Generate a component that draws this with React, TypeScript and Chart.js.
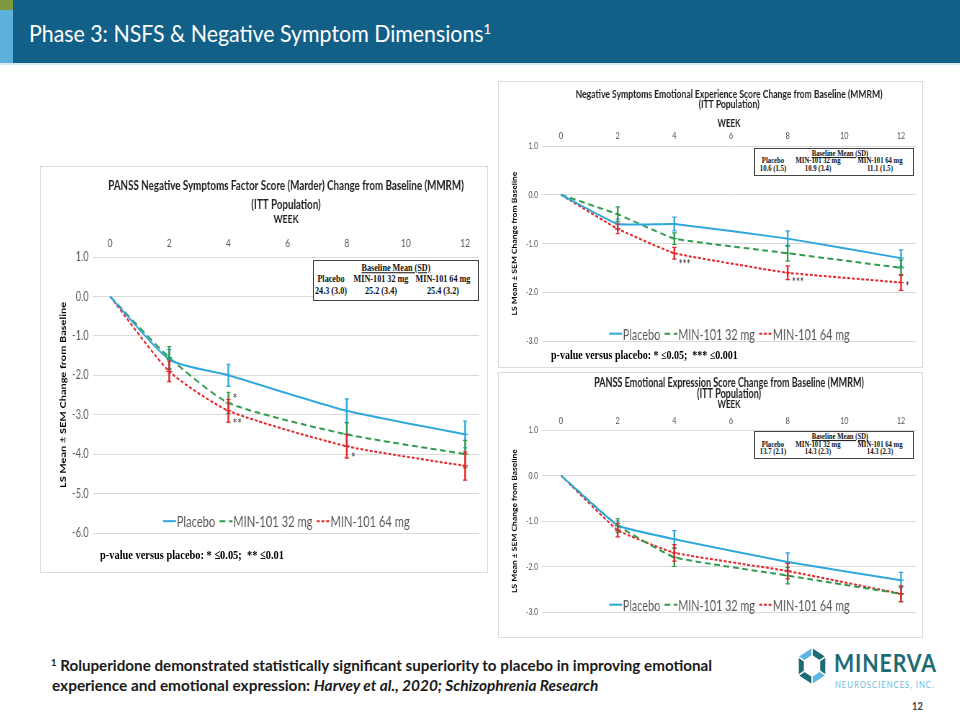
import React, { useEffect, useLayoutEffect, useRef, useState } from 'react';
import { Chart, registerables } from 'chart.js';

Chart.register(...registerables);

// ---------------- DATA ----------------
const weeks = [0, 2, 4, 8, 12];
const weekTicks = [0, 2, 4, 6, 8, 10, 12];
const seriesNames = ['Placebo', 'MIN-101 32 mg', 'MIN-101 64 mg'];

// PANSS Negative Symptoms Factor Score (Marder)
const nsfsTitle = ['PANSS Negative Symptoms Factor Score (Marder) Change from Baseline (MMRM)', '(ITT Population)'];
const nsfsPlacebo = [0, -1.6, -2.0, -2.9, -3.5];
const nsfsPlaceboSem = [0, 0.25, 0.28, 0.3, 0.34];
const nsfs32 = [0, -1.55, -2.7, -3.5, -4.0];
const nsfs32Sem = [0, 0.28, 0.27, 0.3, 0.35];
const nsfs64 = [0, -1.9, -2.9, -3.8, -4.3];
const nsfs64Sem = [0, 0.26, 0.29, 0.3, 0.36];
const nsfsMarks = [
  { week: 4, value: -2.55, text: '*' },
  { week: 4, value: -3.2, text: '**' },
  { week: 8, value: -4.05, text: '*' },
];
const nsfsBaseline = ['24.3 (3.0)', '25.2 (3.4)', '25.4 (3.2)'];

// Negative Symptoms Emotional Experience
const expTitle = ['Negative Symptoms Emotional Experience Score Change from Baseline (MMRM)', '(ITT Population)'];
const expPlacebo = [0, -0.6, -0.6, -0.9, -1.3];
const expPlaceboSem = [0, 0.1, 0.14, 0.16, 0.17];
const exp32 = [0, -0.4, -0.9, -1.2, -1.5];
const exp32Sem = [0, 0.15, 0.12, 0.16, 0.16];
const exp64 = [0, -0.7, -1.2, -1.6, -1.8];
const exp64Sem = [0, 0.1, 0.12, 0.14, 0.16];
const expMarks = [
  { week: 4, value: -1.39, text: '***' },
  { week: 8, value: -1.77, text: '***' },
  { week: 12, value: -1.85, text: '*' },
];
const expBaseline = ['10.6 (1.5)', '10.9 (3.4)', '11.1 (1.5)'];

// PANSS Emotional Expression
const exprTitle = ['PANSS Emotional Expression Score Change from Baseline (MMRM)', '(ITT Population)'];
const exprPlacebo = [0, -1.1, -1.4, -1.9, -2.3];
const exprPlaceboSem = [0, 0.1, 0.19, 0.2, 0.17];
const expr32 = [0, -1.1, -1.8, -2.2, -2.6];
const expr32Sem = [0, 0.15, 0.2, 0.18, 0.17];
const expr64 = [0, -1.2, -1.7, -2.1, -2.6];
const expr64Sem = [0, 0.15, 0.18, 0.17, 0.17];
const exprMarks: { week: number; value: number; text: string }[] = [];
const exprBaseline = ['13.7 (2.1)', '14.3 (2.3)', '14.3 (2.3)'];

// ---------------- STYLE ----------------
const FONT = 'Lato, "Open Sans", "Liberation Sans", sans-serif';
const SERIF = '"Liberation Serif", "DejaVu Serif", serif';
const COLORS = ['#2ea7dd', '#2f9a4c', '#e1262b'];
const DASHES = [[], [8, 5], [4, 2.5]];
const S = 0.72; // horizontal compression of the slide

type Spec = any;

function makeExtras(spec: Spec, k: number) {
  return {
    id: 'extras',
    afterDraw(chart: any) {
      const ctx = chart.ctx;
      const area = chart.chartArea;
      const cx = (area.left + area.right) / 2;
      // chart title centred on the plot area
      ctx.save();
      ctx.fillStyle = '#1f1f1f';
      ctx.textAlign = 'center';
      ctx.textBaseline = 'middle';
      ctx.font = `bold 10px ${FONT}`;
      const m = ctx.measureText(spec.title[0]).width;
      const size = (10 * (spec.titleW / k)) / m;
      ctx.font = `bold ${size}px ${FONT}`;
      spec.title.forEach((t: string, i: number) => ctx.fillText(t, cx, spec.titleY[i]));
      ctx.restore();
    },
    afterDatasetsDraw(chart: any) {
      const ctx = chart.ctx;
      const xS = chart.scales.x;
      const yS = chart.scales.y;
      const area = chart.chartArea;
      // error bars
      chart.data.datasets.forEach((ds: any, i: number) => {
        const errs = spec.sems[i];
        ctx.save();
        ctx.strokeStyle = ds.borderColor;
        ctx.setLineDash([]);
        ds.data.forEach((pt: any, j: number) => {
          const e = errs[j];
          if (!e) return;
          const x = xS.getPixelForValue(pt.x);
          const y1 = yS.getPixelForValue(pt.y + e);
          const y2 = yS.getPixelForValue(pt.y - e);
          const y0 = yS.getPixelForValue(pt.y);
          ctx.lineWidth = 2.4;
          ctx.beginPath();
          ctx.moveTo(x, y1);
          ctx.lineTo(x, y2);
          ctx.stroke();
          ctx.lineWidth = 1.2;
          ctx.beginPath();
          ctx.moveTo(x - 3, y1);
          ctx.lineTo(x + 3, y1);
          ctx.moveTo(x - 3, y2);
          ctx.lineTo(x + 3, y2);
          ctx.moveTo(x - 4, y0);
          ctx.lineTo(x + 4, y0);
          ctx.stroke();
        });
        ctx.restore();
      });
      // significance marks
      ctx.save();
      ctx.fillStyle = '#333333';
      ctx.font = `${spec.markFont}px ${FONT}`;
      ctx.textAlign = 'left';
      ctx.textBaseline = 'middle';
      spec.marks.forEach((mk: any) => {
        ctx.fillText(mk.text, xS.getPixelForValue(mk.week) + 6, yS.getPixelForValue(mk.value) + 2);
      });
      ctx.restore();
      // legend
      ctx.save();
      ctx.font = `${spec.legendFont}px ${FONT}`;
      ctx.textBaseline = 'middle';
      ctx.textAlign = 'left';
      const sample = spec.legendSample;
      const gap = spec.legendGap;
      const widths = chart.data.datasets.map((d: any) => ctx.measureText(d.label).width);
      const total = widths.reduce((a: number, b: number) => a + b, 0) + sample * widths.length + gap * (widths.length - 1);
      let x = (area.left + area.right) / 2 - total / 2;
      const y = yS.getPixelForValue(spec.legendValue);
      chart.data.datasets.forEach((d: any, i: number) => {
        ctx.strokeStyle = d.borderColor;
        ctx.lineWidth = 2;
        ctx.setLineDash(d.borderDash || []);
        ctx.beginPath();
        ctx.moveTo(x, y);
        ctx.lineTo(x + sample, y);
        ctx.stroke();
        ctx.fillStyle = '#595959';
        ctx.fillText(d.label, x + sample + 1, y + 1);
        x += sample + widths[i] + gap;
      });
      ctx.restore();
    },
  };
}

function buildConfig(spec: Spec, k: number): any {
  const datasets = spec.series.map((vals: number[], i: number) => ({
    label: seriesNames[i],
    data: weeks.map((w, j) => ({ x: w, y: vals[j] })),
    borderColor: COLORS[i],
    backgroundColor: COLORS[i],
    borderWidth: 2,
    borderDash: DASHES[i],
    pointRadius: 0,
    tension: spec.tension,
    fill: false,
  }));
  return {
    type: 'line',
    data: { datasets },
    options: {
      responsive: false,
      animation: false,
      events: [],
      layout: { padding: { left: 0, right: spec.padRight, top: spec.padTop, bottom: spec.padBottom } },
      plugins: {
        legend: { display: false },
        tooltip: { enabled: false },
        title: { display: false },
      },
      scales: {
        x: {
          type: 'linear',
          position: 'top',
          min: spec.xMin,
          max: spec.xMax,
          afterBuildTicks: (a: any) => {
            a.ticks = weekTicks.map((v) => ({ value: v }));
          },
          afterFit: (a: any) => {
            a.height = spec.axisH;
          },
          grid: { display: false, drawTicks: false },
          border: { display: false },
          ticks: {
            autoSkip: false,
            maxRotation: 0,
            color: '#595959',
            padding: spec.xTickPad,
            font: { family: FONT, size: spec.xTickFont, lineHeight: spec.xTickLH + 'px' },
          },
          title: {
            display: true,
            text: 'WEEK',
            color: '#1f1f1f',
            font: { family: FONT, size: spec.weekFont, weight: 'bold', lineHeight: spec.weekLH + 'px' },
            padding: { top: spec.weekPad, bottom: 0 },
          },
        },
        y: {
          min: spec.yMin,
          max: spec.yMax,
          afterFit: (a: any) => {
            a.width = spec.yAxisW;
          },
          grid: { color: '#d9d9d9', lineWidth: 1, drawTicks: false },
          border: { display: false },
          ticks: {
            stepSize: 1,
            color: '#595959',
            padding: spec.yTickPad,
            font: { family: FONT, size: spec.yTickFont },
            callback: (v: any) => Number(v).toFixed(1),
          },
          title: {
            display: true,
            text: 'LS Mean \u00b1 SEM Change from Baseline',
            color: '#000000',
            align: 'center',
            font: { family: FONT, size: spec.yTitleFont, weight: 'bold', lineHeight: spec.yTitleLH + 'px' },
            padding: { top: spec.yTitlePad, bottom: 0 },
          },
        },
      },
    },
    plugins: [makeExtras(spec, k)],
  };
}

const specA: Spec = {
  box: { x: 40, y: 166, w: 448, h: 407 },
  title: nsfsTitle, titleW: 356, titleY: [20, 39],
  padTop: 47, axisH: 44, weekFont: 12, weekLH: 12, weekPad: 0,
  xTickFont: 12, xTickLH: 12, xTickPad: 8,
  yAxisW: 73.6, yTickFont: 13, yTickPad: 6,
  yTitleFont: 11, yTitleLH: 12, yTitlePad: 26,
  padRight: 12.5, padBottom: 40,
  xMin: -0.575, xMax: 12.47, yMin: -6, yMax: 1, tension: 0.2,
  series: [nsfsPlacebo, nsfs32, nsfs64],
  sems: [nsfsPlaceboSem, nsfs32Sem, nsfs64Sem],
  marks: nsfsMarks, markFont: 15,
  legendValue: -5.7, legendFont: 15.5, legendSample: 18, legendGap: 7,
};

const specB: Spec = {
  box: { x: 498, y: 81, w: 425, h: 287 },
  title: expTitle, titleW: 307, titleY: [13, 23.5],
  padTop: 28, axisH: 37, weekFont: 11, weekLH: 10, weekPad: 9,
  xTickFont: 10, xTickLH: 10, xTickPad: 5,
  yAxisW: 61.1, yTickFont: 9.5, yTickPad: 5.5,
  yTitleFont: 8.5, yTitleLH: 10, yTitlePad: 18.6,
  padRight: 9.7, padBottom: 27,
  xMin: -0.67, xMax: 12.53, yMin: -3, yMax: 1, tension: 0.1,
  series: [expPlacebo, exp32, exp64],
  sems: [expPlaceboSem, exp32Sem, exp64Sem],
  marks: expMarks, markFont: 13,
  legendValue: -2.85, legendFont: 15, legendSample: 18, legendGap: 7,
};

const specC: Spec = {
  box: { x: 498, y: 372, w: 425, h: 266 },
  title: exprTitle, titleW: 270, titleY: [10.5, 21.5],
  padTop: 26.5, axisH: 31.5, weekFont: 11, weekLH: 10, weekPad: 0.5,
  xTickFont: 10, xTickLH: 10, xTickPad: 4,
  yAxisW: 61.1, yTickFont: 9.5, yTickPad: 5.5,
  yTitleFont: 8.5, yTitleLH: 10, yTitlePad: 18.6,
  padRight: 9.7, padBottom: 26,
  xMin: -0.67, xMax: 12.53, yMin: -3, yMax: 1, tension: 0.1,
  series: [exprPlacebo, expr32, expr64],
  sems: [exprPlaceboSem, expr32Sem, expr64Sem],
  marks: exprMarks, markFont: 13,
  legendValue: -2.84, legendFont: 15, legendSample: 18, legendGap: 7,
};

function ChartPanel({ spec }: { spec: Spec }) {
  const ref = useRef<HTMLCanvasElement>(null);
  const W = Math.round(spec.box.w / S);
  const H = spec.box.h;
  const k = spec.box.w / W;
  useEffect(() => {
    const chart = new Chart(ref.current as HTMLCanvasElement, buildConfig(spec, k));
    return () => chart.destroy();
  }, []);
  return (
    <div
      style={{
        position: 'absolute', left: spec.box.x, top: spec.box.y, width: spec.box.w, height: spec.box.h,
        border: '1px solid #dcdcdc', boxSizing: 'border-box', background: '#fff',
      }}
    >
      <div style={{ position: 'absolute', left: -1, top: -1, width: W, height: H, transform: `scaleX(${k})`, transformOrigin: '0 0' }}>
        <canvas ref={ref} width={W} height={H} style={{ display: 'block' }} />
      </div>
    </div>
  );
}

function Fit({ x, y, w, children, style }: any) {
  const ref = useRef<HTMLSpanElement>(null);
  const [k, setK] = useState(1);
  useLayoutEffect(() => {
    const el = ref.current;
    if (el && el.offsetWidth > 0) setK(w / el.offsetWidth);
  }, [w]);
  return (
    <span
      ref={ref}
      style={{
        position: 'absolute', left: x, top: y, whiteSpace: 'pre', lineHeight: 1,
        transformOrigin: '0 50%', transform: `translateY(-50%) scaleX(${k})`, ...style,
      }}
    >
      {children}
    </span>
  );
}

function Sup({ children }: any) {
  return <span style={{ fontSize: '0.62em', position: 'relative', top: '-0.55em' }}>{children}</span>;
}

function CText({ x, y, children, style }: any) {
  return (
    <span style={{ position: 'absolute', left: x, top: y, whiteSpace: 'pre', lineHeight: 1, transform: 'translate(-50%, -50%) scaleX(0.86)', ...style }}>
      {children}
    </span>
  );
}

function BaselineBox({ x, y, w, h, titleX, titleY, colX, rowY, valY, values, fs }: any) {
  const st = { fontFamily: SERIF, fontWeight: 'bold', fontSize: fs, color: '#111' };
  return (
    <>
      <div style={{ position: 'absolute', left: x, top: y, width: w, height: h, border: '1px solid #444', boxSizing: 'border-box', background: '#fff' }} />
      <CText x={titleX} y={titleY} style={{ ...st, textDecoration: 'underline' }}>Baseline Mean (SD)</CText>
      {seriesNames.map((n, i) => (
        <CText key={'n' + i} x={colX[i]} y={rowY} style={st}>{n}</CText>
      ))}
      {values.map((v: string, i: number) => (
        <CText key={'v' + i} x={colX[i]} y={valY} style={st}>{v}</CText>
      ))}
    </>
  );
}

function Logo() {
  const cx = 17, cy = 20, R = 17.5, r = 9.5;
  const pt = (rad: number, i: number) => {
    const a = ((-90 + 60 * i) * Math.PI) / 180;
    return [cx + rad * 0.92 * Math.cos(a), cy + rad * 1.08 * Math.sin(a)];
  };
  const segColors = ['#1d6b74', '#1d6b74', '#5db6e3', '#1d6b74', '#1d6b74', '#5db6e3'];
  return (
    <svg width={34} height={40} style={{ position: 'absolute', left: 795, top: 646 }}>
      {segColors.map((c, i) => {
        const p = [pt(R, i), pt(R, i + 1), pt(r, i + 1), pt(r, i)];
        return <polygon key={i} points={p.map((q) => q.join(',')).join(' ')} fill={c} stroke="#fff" strokeWidth={1.3} />;
      })}
    </svg>
  );
}

export default function App() {
  return (
    <div style={{ position: 'fixed', left: 0, top: 0, width: 960, height: 720, background: '#fff', overflow: 'hidden', fontFamily: FONT }}>
      {/* header */}
      <div style={{ position: 'absolute', left: 0, top: 0, width: 960, height: 63, background: '#125f88' }} />
      <div style={{ position: 'absolute', left: 0, top: 0, width: 13, height: 63, background: '#5bb0dc' }} />
      <div style={{ position: 'absolute', left: 0, top: 0, width: 13, height: 10, background: '#7d9b3e' }} />
      <div style={{ position: 'absolute', left: 0, top: 63, width: 960, height: 2, background: '#d8eaf3' }} />
      <Fit x={29} y={33} w={462} style={{ color: '#fff', fontSize: 23 }}>
        Phase 3: NSFS &amp; Negative Symptom Dimensions<Sup>1</Sup>
      </Fit>

      {/* charts */}
      <ChartPanel spec={specA} />
      <ChartPanel spec={specB} />
      <ChartPanel spec={specC} />

      {/* baseline boxes */}
      <BaselineBox x={313} y={260} w={166} h={41} titleX={396} titleY={269} colX={[331, 381, 443]} rowY={280} valY={292} values={nsfsBaseline} fs={9.5} />
      <BaselineBox x={754} y={148} w={160} h={28} titleX={840} titleY={154} colX={[773, 818, 880]} rowY={161} valY={169} values={expBaseline} fs={7.8} />
      <BaselineBox x={754} y={431} w={160} h={28} titleX={840} titleY={437} colX={[773, 818, 880]} rowY={445} valY={452} values={exprBaseline} fs={7.8} />

      {/* p-values */}
      <Fit x={100} y={554} w={184} style={{ fontFamily: SERIF, fontWeight: 'bold', fontSize: 13, color: '#000' }}>
        {'p-value versus placebo: * \u22640.05;  ** \u22640.01'}
      </Fit>
      <Fit x={551} y={356} w={187} style={{ fontFamily: SERIF, fontWeight: 'bold', fontSize: 11.5, color: '#000' }}>
        {'p-value versus placebo: * \u22640.05;  *** \u22640.001'}
      </Fit>

      {/* footnote */}
      <Fit x={51} y={665} w={661} style={{ fontWeight: 'bold', fontSize: 15, color: '#1a1a1a' }}>
        <Sup>1</Sup>{' Roluperidone demonstrated statistically significant superiority to placebo in improving emotional'}
      </Fit>
      <Fit x={52} y={685} w={546} style={{ fontWeight: 'bold', fontSize: 15, color: '#1a1a1a' }}>
        {'experience and emotional expression: '}<i>Harvey et al., 2020; Schizophrenia Research</i>
      </Fit>

      {/* logo */}
      <Logo />
      <Fit x={834} y={663} w={103} style={{ fontWeight: 'bold', fontSize: 24, color: '#1e6b75', letterSpacing: 1 }}>MINERVA</Fit>
      <Fit x={835} y={685} w={100} style={{ fontSize: 8.5, color: '#6fb8d8', letterSpacing: 1 }}>NEUROSCIENCES, INC.</Fit>
      <Fit x={912} y={705} w={11} style={{ fontWeight: 'bold', fontSize: 11, color: '#404040' }}>12</Fit>
    </div>
  );
}
